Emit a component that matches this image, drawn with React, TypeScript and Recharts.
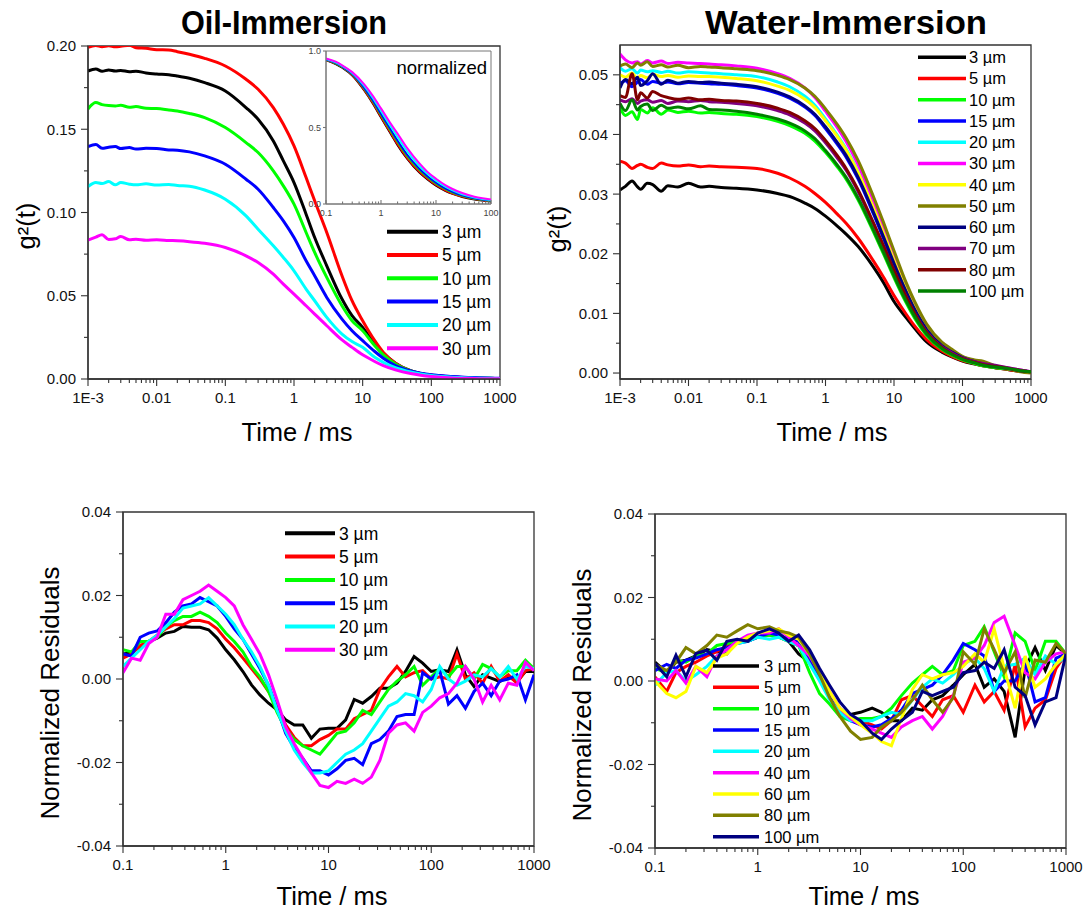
import React from 'react';
import { LineChart, Line, XAxis, YAxis, ReferenceArea } from 'recharts';

const SANS = "'Liberation Sans', Arial, Helvetica, sans-serif";
const NARROW = "'Liberation Sans Narrow', 'Arial Narrow', 'Liberation Sans', Arial, sans-serif";
const AXIS = '#333333';

// ---------------- Oil-immersion correlation curves g²(t) ----------------
const OIL_T = [0.001, 0.0013, 0.0016, 0.002, 0.0025, 0.003, 0.004, 0.005, 0.007, 0.01, 0.015, 0.02, 0.03, 0.05, 0.1, 0.2, 0.3, 0.5, 0.7, 1, 1.5, 2, 3, 5, 7, 10, 15, 20, 30, 50, 70, 100, 200, 300, 500, 700, 1000];
const OIL_3 = [0.185, 0.1862, 0.1848, 0.1856, 0.185, 0.1853, 0.1846, 0.1849, 0.1838, 0.1832, 0.1828, 0.182, 0.1806, 0.178, 0.173, 0.163, 0.156, 0.143, 0.131, 0.118, 0.099, 0.085, 0.068, 0.048, 0.038, 0.031, 0.021, 0.0155, 0.0095, 0.005, 0.0034, 0.0022, 0.0011, 0.0008, 0.0005, 0.0003, 0.0002];
const OIL_5 = [0.1992, 0.2003, 0.1996, 0.2001, 0.1995, 0.1998, 0.2005, 0.199, 0.1986, 0.1978, 0.1976, 0.1966, 0.195, 0.1926, 0.188, 0.18, 0.174, 0.163, 0.153, 0.14, 0.121, 0.107, 0.088, 0.062, 0.047, 0.035, 0.023, 0.016, 0.0095, 0.0048, 0.0032, 0.0022, 0.0012, 0.0008, 0.0005, 0.0004, 0.0003];
const OIL_10 = [0.1622, 0.166, 0.1648, 0.1642, 0.164, 0.1644, 0.1632, 0.1636, 0.1626, 0.1624, 0.1616, 0.161, 0.1595, 0.157, 0.151, 0.142, 0.136, 0.125, 0.116, 0.105, 0.088, 0.076, 0.061, 0.044, 0.035, 0.029, 0.02, 0.0145, 0.009, 0.0048, 0.0032, 0.0022, 0.0011, 0.0008, 0.0005, 0.0004, 0.0003];
const OIL_15 = [0.1395, 0.1408, 0.1386, 0.1392, 0.1396, 0.1384, 0.139, 0.1381, 0.1386, 0.1385, 0.1376, 0.1374, 0.1364, 0.134, 0.129, 0.12, 0.114, 0.103, 0.095, 0.085, 0.071, 0.062, 0.049, 0.036, 0.029, 0.023, 0.0165, 0.0125, 0.008, 0.0048, 0.0035, 0.0025, 0.0015, 0.0011, 0.0008, 0.0006, 0.0004];
const OIL_20 = [0.1155, 0.118, 0.1174, 0.1186, 0.1166, 0.118, 0.117, 0.1166, 0.1172, 0.1165, 0.1168, 0.1162, 0.1158, 0.1135, 0.108, 0.098, 0.09, 0.08, 0.073, 0.065, 0.054, 0.047, 0.037, 0.027, 0.0225, 0.019, 0.013, 0.01, 0.0068, 0.0042, 0.003, 0.0021, 0.0011, 0.0008, 0.0005, 0.0004, 0.0003];
const OIL_30 = [0.0835, 0.0852, 0.0866, 0.0838, 0.0842, 0.0856, 0.0836, 0.0839, 0.0833, 0.0836, 0.0832, 0.083, 0.0825, 0.0815, 0.079, 0.074, 0.07, 0.063, 0.057, 0.051, 0.044, 0.039, 0.032, 0.0235, 0.019, 0.0145, 0.0105, 0.008, 0.0055, 0.0033, 0.0023, 0.0015, 0.0006, 0.0004, 0.0002, 0.0001, 0.0001];

// ---------------- Normalized oil curves (inset) ----------------
const INSET_T = [0.1, 0.15, 0.2, 0.3, 0.5, 0.7, 1, 1.5, 2, 3, 5, 7, 10, 15, 20, 30, 50, 70, 100];
const INSET_3 = [0.94, 0.915, 0.89, 0.84, 0.74, 0.66, 0.565, 0.46, 0.385, 0.295, 0.205, 0.16, 0.12, 0.085, 0.066, 0.046, 0.03, 0.023, 0.017];
const INSET_5 = [0.941, 0.917, 0.892, 0.843, 0.744, 0.665, 0.57, 0.465, 0.39, 0.3, 0.21, 0.165, 0.124, 0.088, 0.069, 0.048, 0.032, 0.024, 0.018];
const INSET_10 = [0.943, 0.92, 0.895, 0.848, 0.752, 0.675, 0.582, 0.478, 0.405, 0.313, 0.222, 0.175, 0.133, 0.096, 0.075, 0.053, 0.035, 0.027, 0.02];
const INSET_15 = [0.945, 0.922, 0.897, 0.851, 0.757, 0.681, 0.59, 0.487, 0.415, 0.322, 0.23, 0.182, 0.14, 0.101, 0.08, 0.057, 0.038, 0.029, 0.022];
const INSET_20 = [0.948, 0.926, 0.901, 0.857, 0.77, 0.697, 0.608, 0.507, 0.438, 0.344, 0.248, 0.197, 0.153, 0.112, 0.089, 0.064, 0.043, 0.033, 0.026];
const INSET_30 = [0.952, 0.93, 0.905, 0.862, 0.78, 0.71, 0.625, 0.525, 0.46, 0.365, 0.265, 0.21, 0.165, 0.122, 0.098, 0.072, 0.048, 0.038, 0.03];

// ---------------- Water-immersion correlation curves g²(t) ----------------
const WATER_T = [0.001, 0.0012, 0.0015, 0.0018, 0.002, 0.0025, 0.003, 0.004, 0.005, 0.007, 0.01, 0.015, 0.02, 0.03, 0.05, 0.1, 0.2, 0.3, 0.5, 0.7, 1, 1.5, 2, 3, 5, 7, 10, 15, 20, 30, 50, 70, 100, 150, 200, 300, 500, 700, 1000];
const W_3 = [0.0307, 0.0313, 0.0322, 0.0312, 0.0308, 0.0318, 0.0316, 0.0305, 0.0314, 0.0312, 0.0318, 0.0312, 0.0313, 0.0311, 0.031, 0.0307, 0.0301, 0.0296, 0.0285, 0.0276, 0.0263, 0.0246, 0.0233, 0.0212, 0.0178, 0.0152, 0.012, 0.0093, 0.0075, 0.0052, 0.0035, 0.0027, 0.002, 0.0015, 0.0012, 0.0009, 0.0005, 0.0003, 0.0001];
const W_5 = [0.0355, 0.0352, 0.0343, 0.0348, 0.035, 0.0345, 0.0343, 0.0352, 0.0349, 0.0347, 0.0349, 0.0346, 0.0347, 0.0346, 0.0345, 0.0343, 0.0335, 0.0327, 0.0313, 0.0301, 0.0286, 0.0266, 0.0251, 0.0226, 0.0188, 0.0161, 0.013, 0.0099, 0.0079, 0.0056, 0.0037, 0.0028, 0.0021, 0.0016, 0.0012, 0.0009, 0.0005, 0.0003, 0.0001];
const W_10 = [0.0445, 0.0432, 0.0438, 0.0425, 0.0442, 0.0436, 0.0445, 0.0434, 0.0441, 0.0437, 0.0439, 0.0436, 0.0437, 0.0435, 0.0434, 0.043, 0.0422, 0.0415, 0.0402, 0.0389, 0.037, 0.0345, 0.0325, 0.029, 0.0237, 0.02, 0.016, 0.0118, 0.0092, 0.0063, 0.004, 0.003, 0.0022, 0.0016, 0.0012, 0.0009, 0.0006, 0.0004, 0.0002];
const W_15 = [0.0485, 0.049, 0.048, 0.0488, 0.0492, 0.0484, 0.0489, 0.0486, 0.0488, 0.0485, 0.0487, 0.0486, 0.0485, 0.0484, 0.0482, 0.0478, 0.0469, 0.0461, 0.0446, 0.0432, 0.041, 0.0383, 0.0362, 0.0325, 0.0267, 0.0226, 0.0182, 0.0136, 0.0106, 0.0072, 0.0046, 0.0035, 0.0026, 0.0019, 0.0015, 0.0011, 0.0007, 0.0004, 0.0002];
const W_20 = [0.0512, 0.0506, 0.051, 0.0503, 0.0508, 0.0505, 0.0507, 0.0504, 0.0506, 0.0503, 0.0505, 0.0504, 0.0503, 0.0502, 0.05, 0.0497, 0.0488, 0.048, 0.0464, 0.0449, 0.0426, 0.0398, 0.0376, 0.0337, 0.0277, 0.0235, 0.0188, 0.0139, 0.0108, 0.0073, 0.0046, 0.0035, 0.0026, 0.0019, 0.0015, 0.0011, 0.0007, 0.0004, 0.0002];
const W_30 = [0.0535, 0.0525, 0.052, 0.0522, 0.0518, 0.0524, 0.052, 0.0523, 0.0519, 0.0521, 0.052, 0.0519, 0.0518, 0.0517, 0.0515, 0.0511, 0.0502, 0.0494, 0.0478, 0.0462, 0.0439, 0.0411, 0.0388, 0.0349, 0.0288, 0.0245, 0.0197, 0.0145, 0.0113, 0.0076, 0.0048, 0.0036, 0.0027, 0.002, 0.0016, 0.0012, 0.0008, 0.0005, 0.0002];
const W_40 = [0.05, 0.0496, 0.0503, 0.0494, 0.0499, 0.0495, 0.0501, 0.0497, 0.0499, 0.0496, 0.0498, 0.0497, 0.0497, 0.0496, 0.0494, 0.049, 0.0481, 0.0474, 0.0459, 0.0445, 0.0423, 0.0396, 0.0374, 0.0336, 0.0277, 0.0235, 0.0189, 0.014, 0.0109, 0.0074, 0.0047, 0.0035, 0.0026, 0.0019, 0.0015, 0.0011, 0.0007, 0.0004, 0.0002];
const W_50 = [0.0515, 0.0518, 0.0512, 0.052, 0.0516, 0.0522, 0.0514, 0.0517, 0.0513, 0.0516, 0.0512, 0.0514, 0.0513, 0.0512, 0.051, 0.0507, 0.0499, 0.0492, 0.0478, 0.0464, 0.0443, 0.0416, 0.0394, 0.0356, 0.0296, 0.0253, 0.0205, 0.0152, 0.012, 0.0082, 0.0052, 0.004, 0.0028, 0.0022, 0.002, 0.0012, 0.0007, 0.0002, 0.0];
const W_60 = [0.0478, 0.0492, 0.0485, 0.0496, 0.0482, 0.049, 0.0502, 0.0484, 0.0491, 0.0486, 0.0489, 0.0487, 0.0488, 0.0486, 0.0484, 0.048, 0.0471, 0.0463, 0.0448, 0.0434, 0.0413, 0.0386, 0.0365, 0.0328, 0.027, 0.0229, 0.0184, 0.0137, 0.0107, 0.0073, 0.0046, 0.0035, 0.0026, 0.0019, 0.0015, 0.0011, 0.0007, 0.0004, 0.0002];
const W_70 = [0.0458, 0.0455, 0.046, 0.0452, 0.0456, 0.0458, 0.0454, 0.0457, 0.0452, 0.0456, 0.0455, 0.0457, 0.0455, 0.0454, 0.0452, 0.0448, 0.044, 0.0433, 0.0419, 0.0406, 0.0386, 0.036, 0.034, 0.0304, 0.025, 0.0212, 0.0171, 0.0128, 0.01, 0.0069, 0.0044, 0.0034, 0.0025, 0.0019, 0.0016, 0.0013, 0.0008, 0.0005, 0.0002];
const W_80 = [0.0465, 0.0462, 0.0502, 0.0458, 0.047, 0.0461, 0.0472, 0.0465, 0.0462, 0.0459, 0.0461, 0.0458, 0.0459, 0.0457, 0.0456, 0.0452, 0.0444, 0.0437, 0.0423, 0.041, 0.039, 0.0364, 0.0343, 0.0307, 0.0252, 0.0214, 0.0172, 0.0128, 0.01, 0.0068, 0.0043, 0.0032, 0.0024, 0.0018, 0.0014, 0.0011, 0.0007, 0.0004, 0.0002];
const W_100 = [0.0452, 0.044, 0.0458, 0.0441, 0.0447, 0.0451, 0.044, 0.0449, 0.0444, 0.0446, 0.0443, 0.0448, 0.0442, 0.0441, 0.0439, 0.0434, 0.0426, 0.0419, 0.0406, 0.0393, 0.0373, 0.0348, 0.0328, 0.0293, 0.024, 0.0203, 0.0163, 0.0121, 0.0095, 0.0065, 0.0041, 0.0031, 0.0023, 0.0017, 0.0013, 0.001, 0.0007, 0.0004, 0.0002];

// ---------------- Oil-immersion fit residuals ----------------
const RO_T = [0.1, 0.121, 0.147, 0.178, 0.215, 0.261, 0.316, 0.383, 0.464, 0.562, 0.681, 0.825, 1, 1.21, 1.47, 1.78, 2.15, 2.61, 3.16, 3.83, 4.64, 5.62, 6.81, 8.25, 10, 12.1, 14.7, 17.8, 21.5, 26.1, 31.6, 38.3, 46.4, 56.2, 68.1, 82.5, 100, 121, 147, 178, 215, 261, 316, 383, 464, 562, 681, 825, 1000];
const RO_3 = [0.006, 0.0063, 0.0078, 0.009, 0.0098, 0.011, 0.0114, 0.0126, 0.0124, 0.0124, 0.0118, 0.0098, 0.007, 0.0046, 0.0018, -0.0014, -0.0038, -0.0058, -0.0074, -0.0098, -0.011, -0.011, -0.0142, -0.012, -0.0118, -0.0118, -0.0098, -0.0049, -0.0058, -0.0042, -0.0022, -0.0022, -0.001, 0.0018, 0.0054, 0.0038, 0.0018, 0.0022, 0.0018, 0.007, 0.001, -0.0018, 0.001, 0.0002, -0.0006, 0.0006, -0.0006, 0.0018, 0.0018];
const RO_5 = [0.005, 0.006, 0.008, 0.009, 0.0105, 0.012, 0.013, 0.013, 0.014, 0.014, 0.0135, 0.012, 0.0095, 0.0075, 0.005, 0.0025, 0.0, -0.003, -0.0065, -0.011, -0.014, -0.016, -0.016, -0.0145, -0.0135, -0.012, -0.012, -0.0095, -0.0085, -0.0075, -0.0025, 0.0005, 0.003, 0.0005, 0.0015, 0.002, 0.0, 0.0005, 0.0, 0.006, 0.0, 0.0015, -0.001, 0.003, -0.0005, 0.001, -0.001, 0.002, 0.0025];
const RO_10 = [0.007, 0.0065, 0.009, 0.009, 0.01, 0.0125, 0.014, 0.015, 0.015, 0.016, 0.015, 0.0135, 0.011, 0.009, 0.0065, 0.003, 0.0005, -0.003, -0.008, -0.012, -0.0145, -0.016, -0.017, -0.018, -0.0155, -0.013, -0.0125, -0.0105, -0.0075, -0.0085, -0.0055, -0.0025, -0.0005, 0.001, 0.003, -0.0015, 0.0005, 0.0025, 0.0005, 0.003, 0.003, 0.0, 0.0035, 0.0025, 0.0005, 0.002, 0.002, 0.0045, 0.0025];
const RO_15 = [0.006, 0.0055, 0.01, 0.011, 0.0115, 0.0135, 0.016, 0.0175, 0.018, 0.0195, 0.0185, 0.0175, 0.015, 0.012, 0.0095, 0.006, 0.0025, -0.0015, -0.007, -0.013, -0.0165, -0.019, -0.022, -0.022, -0.023, -0.0215, -0.0195, -0.019, -0.0205, -0.0155, -0.0145, -0.0125, -0.009, -0.0085, -0.0085, 0.0015, 0.0, 0.002, -0.006, -0.004, -0.007, -0.003, -0.001, -0.004, -0.0005, 0.0, 0.001, -0.005, 0.001];
const RO_20 = [0.003, 0.005, 0.007, 0.009, 0.0105, 0.0125, 0.0145, 0.017, 0.0175, 0.018, 0.0195, 0.0175, 0.0155, 0.013, 0.0095, 0.0065, 0.003, -0.0015, -0.0075, -0.0125, -0.017, -0.02, -0.0225, -0.0225, -0.022, -0.02, -0.018, -0.017, -0.0155, -0.0125, -0.0095, -0.0065, -0.0055, -0.0035, -0.004, -0.0055, -0.0025, 0.003, 0.0, -0.0015, -0.0005, 0.001, 0.0005, 0.0025, 0.0005, 0.003, 0.0, 0.003, 0.0025];
const RO_30 = [0.0015, 0.005, 0.0045, 0.0085, 0.01, 0.0155, 0.0155, 0.019, 0.02, 0.021, 0.0225, 0.021, 0.0195, 0.0175, 0.013, 0.0095, 0.006, 0.001, -0.005, -0.0115, -0.0155, -0.019, -0.0225, -0.0255, -0.026, -0.0245, -0.025, -0.024, -0.025, -0.0235, -0.0195, -0.013, -0.011, -0.0105, -0.0125, -0.008, -0.0065, -0.0045, -0.0035, -0.001, 0.003, 0.0, -0.0055, -0.0015, -0.005, -0.001, -0.0015, 0.004, 0.002];

// ---------------- Water-immersion fit residuals ----------------
const RW_T = [0.1, 0.13, 0.16, 0.2, 0.25, 0.32, 0.4, 0.5, 0.63, 0.8, 1, 1.3, 1.6, 2, 2.5, 3.2, 4, 5, 6.3, 8, 10, 13, 16, 20, 25, 32, 40, 50, 63, 80, 100, 130, 160, 200, 250, 320, 400, 500, 630, 800, 1000];
const RW_3 = [0.0045, 0.002, 0.0045, 0.005, 0.006, 0.0075, 0.007, 0.0065, 0.0095, 0.0095, 0.0105, 0.0115, 0.011, 0.0095, 0.0065, 0.0045, 0.0005, -0.004, -0.0075, -0.008, -0.0075, -0.0065, -0.0075, -0.0095, -0.0095, -0.0065, -0.007, -0.0045, -0.0035, -0.001, 0.0015, 0.004, -0.0015, 0.0005, -0.0025, -0.0135, 0.003, 0.008, 0.0025, 0.0085, 0.0065];
const RW_5 = [0.001, -0.0025, 0.002, 0.0035, 0.0045, 0.006, 0.007, 0.0085, 0.0095, 0.01, 0.0105, 0.011, 0.0105, 0.0095, 0.0085, 0.005, 0.0005, -0.004, -0.0075, -0.009, -0.0095, -0.0105, -0.0115, -0.0095, -0.0045, -0.0035, -0.006, -0.0085, -0.0045, -0.0035, -0.0075, -0.001, -0.005, -0.0025, -0.007, 0.004, -0.011, -0.0065, -0.0045, 0.003, 0.0065];
const RW_10 = [0.003, 0.002, 0.005, 0.0045, 0.006, 0.0065, 0.0085, 0.009, 0.0095, 0.0105, 0.0105, 0.011, 0.0105, 0.0095, 0.0085, 0.002, -0.003, -0.0055, -0.0085, -0.0095, -0.009, -0.009, -0.0085, -0.0065, -0.0035, -0.0005, 0.0015, 0.0035, 0.0015, 0.0025, 0.0085, 0.0095, 0.013, 0.007, 0.001, 0.0115, 0.0095, 0.0025, 0.0095, 0.0095, 0.0065];
const RW_15 = [0.0025, 0.004, 0.003, 0.005, 0.0055, 0.0065, 0.0075, 0.008, 0.009, 0.0095, 0.0105, 0.0115, 0.011, 0.01, 0.0095, 0.0055, 0.001, -0.004, -0.0075, -0.0095, -0.0105, -0.011, -0.0105, -0.009, -0.007, -0.003, -0.002, -0.001, 0.0015, 0.005, 0.009, 0.0075, 0.006, -0.0025, 0.0, 0.0, 0.0045, -0.005, -0.004, 0.0055, 0.0065];
const RW_20 = [-0.001, 0.002, 0.0025, 0.0, 0.0015, 0.0035, 0.006, 0.0075, 0.009, 0.0095, 0.0105, 0.01, 0.0105, 0.0095, 0.0085, 0.004, 0.0, -0.0045, -0.0075, -0.0095, -0.0095, -0.0095, -0.0085, -0.0075, -0.008, -0.0045, -0.0015, 0.0005, -0.0005, 0.0015, 0.004, 0.0055, 0.003, -0.0025, 0.0035, 0.004, 0.0055, 0.0015, 0.006, 0.004, 0.006];
const RW_40 = [0.0005, 0.0, 0.0025, -0.0005, 0.0035, 0.001, 0.006, 0.0075, 0.0095, 0.011, 0.0115, 0.0115, 0.0125, 0.0105, 0.0085, 0.006, 0.002, -0.0025, -0.0065, -0.009, -0.0105, -0.0115, -0.0125, -0.0135, -0.011, -0.0095, -0.0085, -0.0115, -0.0085, -0.0035, 0.0045, 0.0055, 0.0085, 0.014, 0.0155, 0.0085, 0.002, 0.0005, 0.0045, 0.0065, 0.007];
const RW_60 = [0.0, -0.003, -0.004, -0.0025, 0.0035, 0.002, 0.0055, 0.0065, 0.009, 0.0105, 0.0115, 0.012, 0.0125, 0.011, 0.01, 0.0065, 0.0025, -0.0025, -0.0065, -0.0085, -0.0105, -0.0125, -0.0145, -0.0155, -0.009, -0.002, 0.0015, 0.0005, 0.0015, 0.002, 0.0035, 0.0065, 0.0045, 0.0125, 0.003, -0.0065, 0.006, -0.0015, 0.0005, 0.004, 0.0065];
const RW_80 = [0.004, 0.0025, 0.0045, 0.008, 0.0065, 0.0085, 0.011, 0.0105, 0.012, 0.0135, 0.0125, 0.013, 0.012, 0.0115, 0.0105, 0.0065, 0.0015, -0.004, -0.0085, -0.012, -0.014, -0.0135, -0.011, -0.0095, -0.0075, -0.0045, -0.001, -0.0045, -0.0075, -0.004, 0.007, 0.004, 0.0125, 0.0075, 0.002, 0.007, -0.004, 0.005, 0.0045, 0.009, 0.0065];
const RW_100 = [0.0042, 0.001, 0.0062, 0.001, 0.0066, 0.0074, 0.005, 0.0095, 0.01, 0.0095, 0.0115, 0.0125, 0.0115, 0.0095, 0.011, 0.0075, 0.003, -0.001, -0.005, -0.008, -0.0095, -0.0125, -0.014, -0.0115, -0.0095, -0.0075, -0.0025, -0.0035, -0.0025, -0.0015, 0.002, 0.0025, 0.0045, 0.003, 0.0075, -0.0015, -0.0035, -0.0105, -0.005, -0.004, 0.0065];

// ---------------- Tick values ----------------
const OIL_Y_TICKS = [0, 0.025, 0.05, 0.075, 0.1, 0.125, 0.15, 0.175, 0.2];
const OIL_Y_MAJOR = [0, 0.05, 0.1, 0.15, 0.2];
const WATER_Y_TICKS = [0, 0.005, 0.01, 0.015, 0.02, 0.025, 0.03, 0.035, 0.04, 0.045, 0.05];
const WATER_Y_MAJOR = [0, 0.01, 0.02, 0.03, 0.04, 0.05];
const RES_Y_TICKS = [-0.04, -0.03, -0.02, -0.01, 0, 0.01, 0.02, 0.03, 0.04];
const RES_Y_MAJOR = [-0.04, -0.02, 0, 0.02, 0.04];
const INSET_Y_TICKS = [0, 0.5, 1];

type Series = { key: string; label: string; color: string; values: number[] };

const OIL_SERIES: Series[] = [
  { key: 'o3', label: '3 µm', color: '#000000', values: OIL_3 },
  { key: 'o5', label: '5 µm', color: '#ff0000', values: OIL_5 },
  { key: 'o10', label: '10 µm', color: '#00ff00', values: OIL_10 },
  { key: 'o15', label: '15 µm', color: '#0000ff', values: OIL_15 },
  { key: 'o20', label: '20 µm', color: '#00ffff', values: OIL_20 },
  { key: 'o30', label: '30 µm', color: '#ff00ff', values: OIL_30 },
];
const INSET_SERIES: Series[] = [
  { key: 'n3', label: '3 µm', color: '#000000', values: INSET_3 },
  { key: 'n5', label: '5 µm', color: '#ff0000', values: INSET_5 },
  { key: 'n10', label: '10 µm', color: '#00ff00', values: INSET_10 },
  { key: 'n15', label: '15 µm', color: '#0000ff', values: INSET_15 },
  { key: 'n20', label: '20 µm', color: '#00ffff', values: INSET_20 },
  { key: 'n30', label: '30 µm', color: '#ff00ff', values: INSET_30 },
];
const WATER_SERIES: Series[] = [
  { key: 'w3', label: '3 µm', color: '#000000', values: W_3 },
  { key: 'w5', label: '5 µm', color: '#ff0000', values: W_5 },
  { key: 'w10', label: '10 µm', color: '#00ff00', values: W_10 },
  { key: 'w15', label: '15 µm', color: '#0000ff', values: W_15 },
  { key: 'w20', label: '20 µm', color: '#00ffff', values: W_20 },
  { key: 'w30', label: '30 µm', color: '#ff00ff', values: W_30 },
  { key: 'w40', label: '40 µm', color: '#ffff00', values: W_40 },
  { key: 'w50', label: '50 µm', color: '#808000', values: W_50 },
  { key: 'w60', label: '60 µm', color: '#000080', values: W_60 },
  { key: 'w70', label: '70 µm', color: '#800080', values: W_70 },
  { key: 'w80', label: '80 µm', color: '#800000', values: W_80 },
  { key: 'w100', label: '100 µm', color: '#008000', values: W_100 },
];
const RES_OIL_SERIES: Series[] = [
  { key: 'r3', label: '3 µm', color: '#000000', values: RO_3 },
  { key: 'r5', label: '5 µm', color: '#ff0000', values: RO_5 },
  { key: 'r10', label: '10 µm', color: '#00ff00', values: RO_10 },
  { key: 'r15', label: '15 µm', color: '#0000ff', values: RO_15 },
  { key: 'r20', label: '20 µm', color: '#00ffff', values: RO_20 },
  { key: 'r30', label: '30 µm', color: '#ff00ff', values: RO_30 },
];
const RES_WATER_SERIES: Series[] = [
  { key: 'q3', label: '3 µm', color: '#000000', values: RW_3 },
  { key: 'q5', label: '5 µm', color: '#ff0000', values: RW_5 },
  { key: 'q10', label: '10 µm', color: '#00ff00', values: RW_10 },
  { key: 'q15', label: '15 µm', color: '#0000ff', values: RW_15 },
  { key: 'q20', label: '20 µm', color: '#00ffff', values: RW_20 },
  { key: 'q40', label: '40 µm', color: '#ff00ff', values: RW_40 },
  { key: 'q60', label: '60 µm', color: '#ffff00', values: RW_60 },
  { key: 'q80', label: '80 µm', color: '#808000', values: RW_80 },
  { key: 'q100', label: '100 µm', color: '#000080', values: RW_100 },
];

const toRows = (times: number[], series: Series[]) =>
  times.map((t, i) => {
    const row: Record<string, number> = { t };
    series.forEach((s) => {
      row[s.key] = s.values[i];
    });
    return row;
  });

// 1..9 × 10^e tick positions for a log axis
const logTicks = (fromExp: number, toExp: number) => {
  const out: number[] = [];
  for (let e = fromExp; e < toExp; e++) {
    for (let m = 1; m <= 9; m++) out.push(Number((m * Math.pow(10, e)).toPrecision(4)));
  }
  out.push(Math.pow(10, toExp));
  return out;
};

const fmtTime = (v: number) => (Math.abs(v - 0.001) < 1e-9 ? '1E-3' : String(v));

type XTickOpts = { fs: number; major: number; minor: number; gap: number; up?: boolean; color?: string; textColor?: string };
const logXTick = (o: XTickOpts) => (p: any) => {
  const v = p.payload.value as number;
  const lg = Math.log10(v);
  const isMajor = Math.abs(lg - Math.round(lg)) < 1e-6;
  const len = isMajor ? o.major : o.minor;
  const d = o.up ? -1 : 1;
  return (
    <g key={`x-${v}`}>
      <line x1={p.x} x2={p.x} y1={p.y} y2={p.y + d * len} stroke={o.color ?? AXIS} strokeWidth={1.1} />
      {isMajor ? (
        <text x={p.x} y={p.y + o.gap} textAnchor="middle" fontSize={o.fs} fontFamily={SANS} fill={o.textColor ?? '#111'}>
          {fmtTime(v)}
        </text>
      ) : null}
    </g>
  );
};

type YTickOpts = { majors: number[]; digits: number; fs: number; major: number; minor: number; gap: number; color?: string; textColor?: string };
const linYTick = (o: YTickOpts) => (p: any) => {
  const v = p.payload.value as number;
  const isMajor = o.majors.some((m) => Math.abs(m - v) < 1e-9);
  const len = isMajor ? o.major : o.minor;
  return (
    <g key={`y-${v}`}>
      <line x1={p.x - len} x2={p.x} y1={p.y} y2={p.y} stroke={o.color ?? AXIS} strokeWidth={1.1} />
      {isMajor ? (
        <text x={p.x - o.gap} y={p.y + o.fs * 0.36} textAnchor="end" fontSize={o.fs} fontFamily={SANS} fill={o.textColor ?? '#111'}>
          {v.toFixed(o.digits)}
        </text>
      ) : null}
    </g>
  );
};

const axisLine = { stroke: AXIS, strokeWidth: 1.3 };

type PanelProps = {
  left: number;
  top: number;
  width: number;
  height: number;
  margin: { top: number; right: number; bottom: number; left: number };
  rows: Record<string, number>[];
  series: Series[];
  xDomain: [number, number];
  xTicks: number[];
  yDomain: [number, number];
  yTicks: number[];
  yMajors: number[];
  smooth: boolean;
  strokeWidth: number;
};

function Panel(props: PanelProps) {
  const { left, top, width, height, margin, rows, series, xDomain, xTicks, yDomain, yTicks, yMajors, smooth, strokeWidth } = props;
  return (
    <div style={{ position: 'absolute', left, top, width, height }}>
      <LineChart width={width} height={height} data={rows} margin={margin}>
        <ReferenceArea x1={xDomain[0]} x2={xDomain[1]} y1={yDomain[0]} y2={yDomain[1]} fill="none" stroke={AXIS} strokeWidth={1.3} ifOverflow="visible" />
        <XAxis
          dataKey="t"
          type="number"
          scale="log"
          domain={xDomain}
          allowDataOverflow
          ticks={xTicks}
          interval={0}
          height={30}
          tickSize={0}
          tickMargin={0}
          tickLine={false}
          axisLine={axisLine}
          tick={logXTick({ fs: 15, major: 7, minor: 4, gap: 24 })}
        />
        <YAxis
          type="number"
          domain={yDomain}
          allowDataOverflow
          ticks={yTicks}
          interval={0}
          width={60}
          tickSize={0}
          tickMargin={0}
          tickLine={false}
          axisLine={axisLine}
          tick={linYTick({ majors: yMajors, digits: 2, fs: 15, major: 7, minor: 4, gap: 12 })}
        />
        {series.map((s) => (
          <Line
            key={s.key}
            dataKey={s.key}
            stroke={s.color}
            strokeWidth={strokeWidth}
            type={smooth ? 'monotone' : 'linear'}
            dot={false}
            activeDot={false}
            isAnimationActive={false}
          />
        ))}
      </LineChart>
    </div>
  );
}

function Inset() {
  const rows = toRows(INSET_T, INSET_SERIES);
  return (
    <div style={{ position: 'absolute', left: 296, top: 45, width: 212, height: 180 }}>
      <LineChart width={212} height={180} data={rows} margin={{ top: 6, right: 17, bottom: 5, left: 6 }}>
        <ReferenceArea x1={0.1} x2={100} y1={0} y2={1} fill="#ffffff" stroke="#777777" strokeWidth={1} ifOverflow="visible" />
        <XAxis
          dataKey="t"
          type="number"
          scale="log"
          domain={[0.1, 100]}
          allowDataOverflow
          ticks={logTicks(-1, 2)}
          interval={0}
          height={16}
          tickSize={0}
          tickMargin={0}
          tickLine={false}
          axisLine={{ stroke: '#777777', strokeWidth: 1 }}
          tick={logXTick({ fs: 9, major: 4, minor: 2.5, gap: 12, up: true, color: '#777777', textColor: '#444444' })}
        />
        <YAxis
          type="number"
          domain={[0, 1]}
          allowDataOverflow
          ticks={INSET_Y_TICKS}
          interval={0}
          width={24}
          tickSize={0}
          tickMargin={0}
          tickLine={false}
          axisLine={{ stroke: '#777777', strokeWidth: 1 }}
          tick={linYTick({ majors: INSET_Y_TICKS, digits: 1, fs: 9, major: 3, minor: 2, gap: 5, color: '#777777', textColor: '#444444' })}
        />
        {INSET_SERIES.map((s) => (
          <Line key={s.key} dataKey={s.key} stroke={s.color} strokeWidth={2} type="monotone" dot={false} activeDot={false} isAnimationActive={false} />
        ))}
      </LineChart>
    </div>
  );
}

type LegendProps = { series: Series[]; x1: number; x2: number; tx: number; y0: number; dy: number; fs: number; sw: number };
function LegendBlock({ series, x1, x2, tx, y0, dy, fs, sw }: LegendProps) {
  return (
    <g>
      {series.map((s, i) => {
        const y = y0 + i * dy;
        return (
          <g key={s.key}>
            <line x1={x1} x2={x2} y1={y} y2={y} stroke={s.color} strokeWidth={sw} />
            <text x={tx} y={y + fs * 0.36} fontSize={fs} fontFamily={SANS} fill="#000">
              {s.label}
            </text>
          </g>
        );
      })}
    </g>
  );
}

function VLabel({ x, y, text, fs }: { x: number; y: number; text: string; fs: number }) {
  return (
    <text transform={`translate(${x},${y}) rotate(-90)`} textAnchor="middle" dominantBaseline="central" fontSize={fs} fontFamily={SANS} fill="#000">
      {text}
    </text>
  );
}

export default function App() {
  const oilRows = toRows(OIL_T, OIL_SERIES);
  const waterRows = toRows(WATER_T, WATER_SERIES);
  const resOilRows = toRows(RO_T, RES_OIL_SERIES);
  const resWaterRows = toRows(RW_T, RES_WATER_SERIES);

  return (
    <div style={{ position: 'absolute', left: 0, top: 0, width: 1089, height: 913, background: '#ffffff', overflow: 'hidden' }}>
      <Panel
        left={0}
        top={0}
        width={540}
        height={460}
        margin={{ top: 46, right: 40, bottom: 51, left: 28 }}
        rows={oilRows}
        series={OIL_SERIES}
        xDomain={[0.001, 1000]}
        xTicks={logTicks(-3, 3)}
        yDomain={[0, 0.2]}
        yTicks={OIL_Y_TICKS}
        yMajors={OIL_Y_MAJOR}
        smooth
        strokeWidth={3}
      />
      <Panel
        left={540}
        top={0}
        width={549}
        height={460}
        margin={{ top: 45, right: 58, bottom: 51, left: 20 }}
        rows={waterRows}
        series={WATER_SERIES}
        xDomain={[0.001, 1000]}
        xTicks={logTicks(-3, 3)}
        yDomain={[-0.001, 0.055]}
        yTicks={WATER_Y_TICKS}
        yMajors={WATER_Y_MAJOR}
        smooth
        strokeWidth={3}
      />
      <Panel
        left={0}
        top={460}
        width={560}
        height={453}
        margin={{ top: 52, right: 26, bottom: 37, left: 63 }}
        rows={resOilRows}
        series={RES_OIL_SERIES}
        xDomain={[0.1, 1000]}
        xTicks={logTicks(-1, 3)}
        yDomain={[-0.04, 0.04]}
        yTicks={RES_Y_TICKS}
        yMajors={RES_Y_MAJOR}
        smooth={false}
        strokeWidth={3}
      />
      <Panel
        left={540}
        top={460}
        width={549}
        height={453}
        margin={{ top: 54, right: 23, bottom: 35, left: 55 }}
        rows={resWaterRows}
        series={RES_WATER_SERIES}
        xDomain={[0.1, 1000]}
        xTicks={logTicks(-1, 3)}
        yDomain={[-0.04, 0.04]}
        yTicks={RES_Y_TICKS}
        yMajors={RES_Y_MAJOR}
        smooth={false}
        strokeWidth={3}
      />
      <Inset />

      <svg width={1089} height={913} style={{ position: 'absolute', left: 0, top: 0, pointerEvents: 'none' }}>
        <text x={284} y={34} textAnchor="middle" fontSize={34} fontWeight="bold" fontFamily={NARROW} fill="#000" textLength={206} lengthAdjust="spacingAndGlyphs">
          Oil-Immersion
        </text>
        <text x={846} y={34} textAnchor="middle" fontSize={34} fontWeight="bold" fontFamily={NARROW} fill="#000" textLength={282} lengthAdjust="spacingAndGlyphs">
          Water-Immersion
        </text>

        <text x={487} y={74} textAnchor="end" fontSize={18.5} fontFamily={SANS} fill="#000">
          normalized
        </text>

        <text x={297} y={441} textAnchor="middle" fontSize={25.5} fontFamily={SANS} fill="#000">Time / ms</text>
        <text x={832} y={441} textAnchor="middle" fontSize={25.5} fontFamily={SANS} fill="#000">Time / ms</text>
        <text x={332} y={905} textAnchor="middle" fontSize={25.5} fontFamily={SANS} fill="#000">Time / ms</text>
        <text x={864} y={905} textAnchor="middle" fontSize={25.5} fontFamily={SANS} fill="#000">Time / ms</text>

        <VLabel x={26} y={226} text="g²(t)" fs={25.5} />
        <VLabel x={557} y={229} text="g²(t)" fs={25.5} />
        <VLabel x={50} y={693} text="Normalized Residuals" fs={26} />
        <VLabel x={582} y={695} text="Normalized Residuals" fs={26} />

        <LegendBlock series={OIL_SERIES} x1={387} x2={438} tx={442} y0={231.7} dy={23.3} fs={17.5} sw={4} />
        <LegendBlock series={WATER_SERIES} x1={918} x2={966} tx={969} y0={57.3} dy={21.25} fs={16.5} sw={3.5} />
        <LegendBlock series={RES_OIL_SERIES} x1={285} x2={335} tx={339} y0={533.3} dy={23.3} fs={17.5} sw={4} />
        <LegendBlock series={RES_WATER_SERIES} x1={713} x2={759} tx={764} y0={666} dy={21.33} fs={16.5} sw={3.5} />
      </svg>
    </div>
  );
}
